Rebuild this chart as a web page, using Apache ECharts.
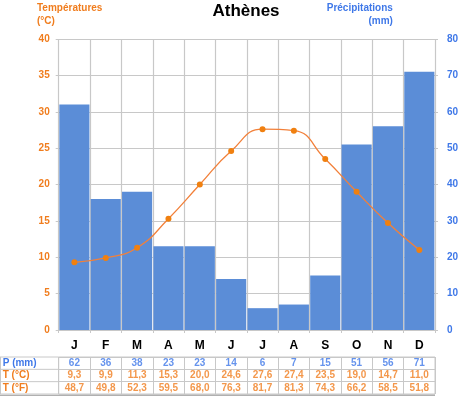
<!DOCTYPE html>
<html><head><meta charset="utf-8">
<script src="https://cdn.jsdelivr.net/npm/echarts@6/dist/echarts.min.js"></script>
<style>html,body{margin:0;padding:0;background:#fff}#c{width:460px;height:396px}</style>
</head><body><div id="c"></div>
<script>
var months = ['J','F','M','A','M','J','J','A','S','O','N','D'];
var precip = [62,36,38,23,23,14,6,7,15,51,56,71];
var tempC = [9.3,9.9,11.3,15.3,20.0,24.6,27.6,27.4,23.5,19.0,14.7,11.0];
var tempF = [48.7,49.8,52.3,59.5,68.0,76.3,81.7,81.3,74.3,66.2,58.5,51.8];
var rowLabels = ['P (mm)','T (°C)','T (°F)'];
var leftTicks = [0,5,10,15,20,25,30,35,40];
var rightTicks = [0,10,20,30,40,50,60,70,80];

var ORANGE = '#f07d1e', BLUE = '#3f78e8', GRID = '#c8c8c8';
var FONT = 'Arial, "Liberation Sans", sans-serif';
var L = 58.7, R = 25, TOP = 39, BOT = 66;
var TT = 357, TH = 37; // table
var fmt = function(v){ return v.toFixed(1).replace('.', ','); };

var cells = [];
var rowColors = [BLUE, ORANGE, ORANGE];
for (var i = 0; i < months.length; i++) {
  var vals = [String(precip[i]), fmt(tempC[i]), fmt(tempF[i])];
  for (var r = 0; r < 3; r++) {
    cells.push({value:[i, r, vals[r]], label:{color: rowColors[r]}});
  }
}

var chart = echarts.init(document.getElementById('c'), null, {renderer:'canvas'});
var rowH = TH / 3;
var graphics = [];
for (var k = 0; k <= 3; k++) {
  graphics.push({type:'line', shape:{x1:0, y1:TT + k*rowH, x2:L, y2:TT + k*rowH}, style:{stroke:GRID, lineWidth:1}});
}
graphics.push({type:'line', shape:{x1:0.5, y1:TT, x2:0.5, y2:TT+TH}, style:{stroke:GRID, lineWidth:1}});
graphics.push({type:'line', shape:{x1:0, y1:TT+TH+1.5, x2:460-R, y2:TT+TH+1.5}, style:{stroke:'#b0b0b0', lineWidth:1.5}});

chart.setOption({
  animation:false,
  textStyle:{fontFamily:FONT},
  title:[
    {text:'Athènes', left:246, top:3, padding:0, textAlign:'center', textStyle:{fontSize:17, fontWeight:'bold', color:'#000', fontFamily:FONT}},
    {text:'Températures\n(°C)', left:37, top:2, padding:0, textStyle:{fontSize:10, fontWeight:'bold', color:ORANGE, lineHeight:13, fontFamily:FONT}},
    {text:'Précipitations\n(mm)', right:1, top:2, padding:0, textAlign:'right', textStyle:{fontSize:10, fontWeight:'bold', color:BLUE, lineHeight:13, align:'right', fontFamily:FONT}}
  ],
  graphic: graphics,
  grid:[
    {left:L, right:R, top:TOP, bottom:BOT, outerBoundsMode:'none', containLabel:false},
    {left:L, right:R, top:TT, height:TH, show:true, borderColor:GRID, borderWidth:1, outerBoundsMode:'none', containLabel:false}
  ],
  xAxis:[
    {type:'category', gridIndex:0, data:months, boundaryGap:true,
     axisLine:{lineStyle:{color:GRID}}, axisTick:{show:true, length:3, lineStyle:{color:GRID}},
     splitLine:{show:true, lineStyle:{color:GRID, width:1.2}},
     axisLabel:{color:'#000', fontSize:12, fontWeight:'bold', margin:10, interval:0, fontFamily:FONT}},
    {type:'category', gridIndex:1, data:months, boundaryGap:true,
     axisLine:{show:false}, axisTick:{show:false}, axisLabel:{show:false},
     splitLine:{show:true, interval:0, lineStyle:{color:GRID}}}
  ],
  yAxis:[
    {type:'value', gridIndex:0, min:0, max:40, interval:5,
     axisLine:{show:false}, axisTick:{show:true, length:3, lineStyle:{color:GRID}},
     splitLine:{show:true, lineStyle:{color:GRID, width:1.2}},
     axisLabel:{color:ORANGE, fontSize:10, fontWeight:'bold', margin:9, fontFamily:FONT,
       formatter:function(v){ return leftTicks.indexOf(v) >= 0 ? String(v) : ''; }}},
    {type:'value', gridIndex:0, min:0, max:80, interval:10, position:'right',
     axisLine:{show:false}, axisTick:{show:true, length:3, lineStyle:{color:GRID}},
     splitLine:{show:false},
     axisLabel:{color:BLUE, fontSize:10, fontWeight:'bold', margin:12, fontFamily:FONT,
       formatter:function(v){ return rightTicks.indexOf(v) >= 0 ? String(v) : ''; }}},
    {type:'category', gridIndex:1, data:rowLabels,
     inverse:true, boundaryGap:true,
     axisLine:{show:false}, axisTick:{show:false},
     splitLine:{show:true, interval:0, lineStyle:{color:GRID}},
     axisLabel:{align:'right', margin:2, interval:0, hideOverlap:false, fontSize:10, fontWeight:'bold', fontFamily:FONT,
       formatter:function(v){ return (v === rowLabels[0] ? '{b|' : '{o|') + v + '}'; },
       rich:{
         b:{width:54, align:'left', color:BLUE, fontSize:10, fontWeight:'bold', fontFamily:FONT},
         o:{width:54, align:'left', color:ORANGE, fontSize:10, fontWeight:'bold', fontFamily:FONT}
       }}}
  ],
  series:[
    {type:'bar', xAxisIndex:0, yAxisIndex:1, data:precip, barCategoryGap:'4%',
     itemStyle:{color:'#5b8dd7'}, z:1},
    {type:'line', xAxisIndex:0, yAxisIndex:0, data:tempC, smooth:true,
     symbol:'circle', symbolSize:6, lineStyle:{color:'#f2803a', width:1.3},
     itemStyle:{color:'#f08010'}, z:3},
    {type:'scatter', xAxisIndex:1, yAxisIndex:2, data:cells, symbolSize:0,
     encode:{x:0, y:1},
     label:{show:true, position:'inside', fontSize:10, fontWeight:'bold', fontFamily:FONT,
       formatter:function(p){ return p.value[2]; }}}
  ]
});
</script></body></html>
